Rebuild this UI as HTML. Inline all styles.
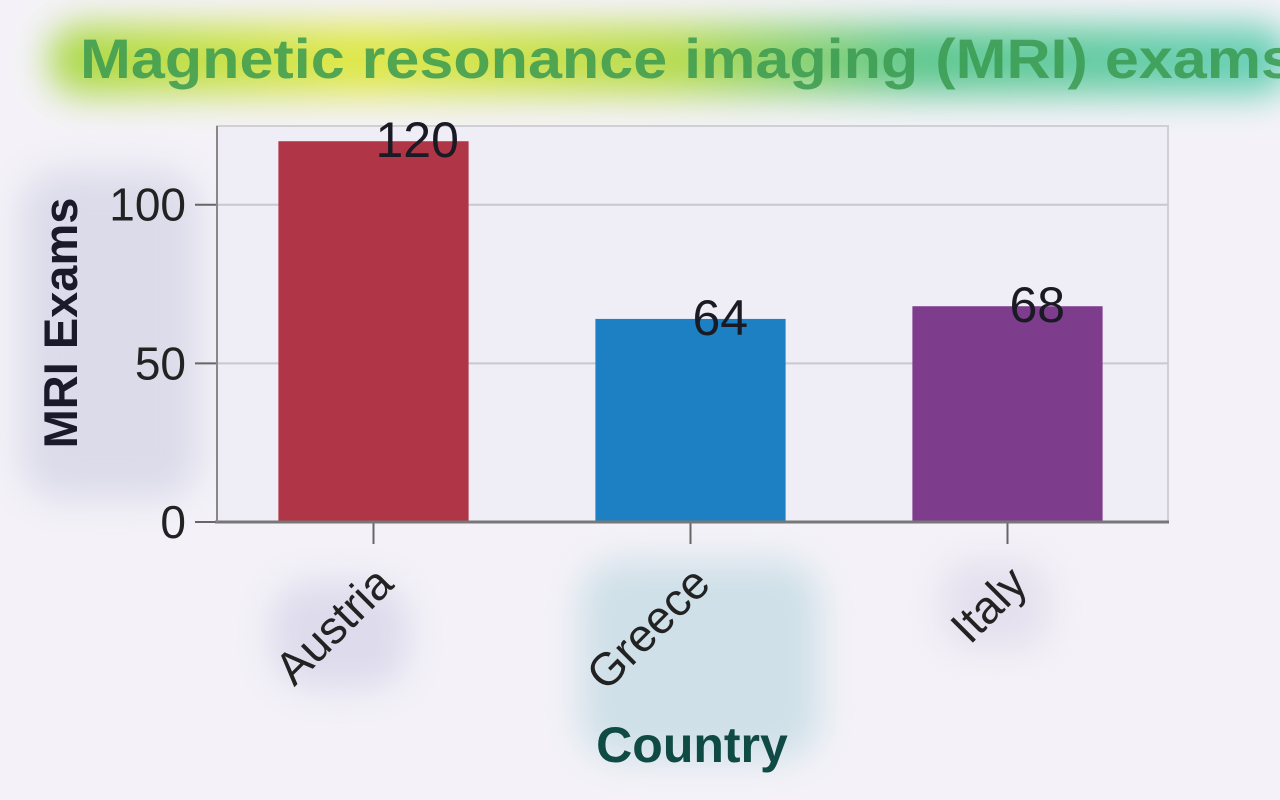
<!DOCTYPE html>
<html><head><meta charset="utf-8"><style>
html,body{margin:0;padding:0;background:#fff;width:1280px;height:800px;overflow:hidden}
svg{display:block;font-family:"Liberation Sans",Arial,sans-serif}
</style></head><body>
<svg id="chart" width="1280" height="800" viewBox="0 0 1280 800">
<defs>
<filter id="blur" x="-50%" y="-50%" width="200%" height="200%"><feGaussianBlur stdDeviation="18"/></filter>
<linearGradient id="tg" x1="0" x2="1">
<stop offset="0" stop-color="#a8d84a"/><stop offset="0.25" stop-color="#e0e84a"/><stop offset="0.5" stop-color="#b8dc50"/><stop offset="0.7" stop-color="#60c890"/><stop offset="1" stop-color="#6ad0b8"/>
</linearGradient>
</defs>
<rect x="0" y="0" width="1280" height="800" fill="#f4f2f8"/>
<g filter="url(#blur)">
<rect x="50" y="25" width="1240" height="70" rx="30" fill="url(#tg)"/>
<rect x="20" y="170" width="180" height="330" rx="40" fill="#dcdbea"/>
<rect x="580" y="560" width="240" height="200" rx="40" fill="#cfe0e8"/>
<rect x="270" y="580" width="140" height="110" rx="40" fill="#dedcec"/>
<rect x="940" y="560" width="110" height="90" rx="30" fill="#e4e0ee"/>
</g>
<rect x="217" y="126" width="951" height="396" fill="#efedf5" stroke="#cfcfd6" stroke-width="2"/>
<g id="grid"></g>
<g id="bars"></g>
<g id="axes"></g>
<text x="80" y="78" font-size="56" font-weight="bold" fill="#3a9a50" fill-opacity="0.85" textLength="1215" lengthAdjust="spacingAndGlyphs">Magnetic resonance imaging (MRI) exams</text>
<text transform="translate(77,323) rotate(-90)" text-anchor="middle" font-size="47" font-weight="bold" fill="#1a1a2a">MRI Exams</text>
<text x="692" y="762" text-anchor="middle" font-size="50" font-weight="bold" fill="#0f4a44">Country</text>
</svg>
<script>
const categories = ["Austria","Greece","Italy"];
const values = [120,64,68];
const barColors = ["#b03546","#1d80c2","#7e3c8c"];
const yTicks = [0,50,100];
const NS="http://www.w3.org/2000/svg";
const X0=217,X1=1168,Y0=522,YMAX=124.8,PT=126;
function y(v){return Y0-(v/YMAX)*(Y0-PT);}
const band=(X1-X0)/categories.length;
function xc(i){return X0+band*(i+0.5)-2;}
const bw=band*0.6;
function mk(t,a,p){const e=document.createElementNS(NS,t);for(const k in a)e.setAttribute(k,a[k]);(p||document.getElementById('chart')).appendChild(e);return e;}
const grid=document.getElementById('grid'),bars=document.getElementById('bars'),axes=document.getElementById('axes');
yTicks.forEach(v=>{
  if(v>0){const g=mk('line',{x1:X0,x2:X1,y1:y(v),y2:y(v),stroke:'#c8c8d0','stroke-width':2},grid);
  
  }
  const tk=mk('line',{x1:X0-22,x2:X0,y1:y(v),y2:y(v),stroke:'#666','stroke-width':2},axes);
  
  
  const t=mk('text',{x:X0-31,y:y(v)+16,'text-anchor':'end','font-size':46,fill:'#222'},axes);
  t.textContent=v;
  
  
});
categories.forEach((c,i)=>{
  const r=mk('rect',{x:xc(i)-bw/2,y:y(values[i]),width:bw,height:Y0-y(values[i]),fill:barColors[i]},bars);
  
  
  const l=mk('text',{x:xc(i)+2,y:y(values[i])+16,'font-size':50,fill:'#1a1a24'},bars);
  l.textContent=values[i];
  
  
  const tk=mk('line',{x1:xc(i),x2:xc(i),y1:Y0,y2:Y0+22,stroke:'#666','stroke-width':2},axes);
  
  
  const t=mk('text',{x:0,y:0,'text-anchor':'end','font-size':46,fill:'#222',transform:'translate('+(xc(i)+22)+','+(Y0+64)+') rotate(-45)'},axes);
  t.textContent=c;
  
  
});
const ax=mk('line',{x1:X0-2,x2:X1+1,y1:Y0,y2:Y0,stroke:'#777','stroke-width':3},axes);


const ay=mk('line',{x1:X0,x2:X0,y1:PT,y2:Y0,stroke:'#888','stroke-width':2},axes);


</script>
</body></html>
